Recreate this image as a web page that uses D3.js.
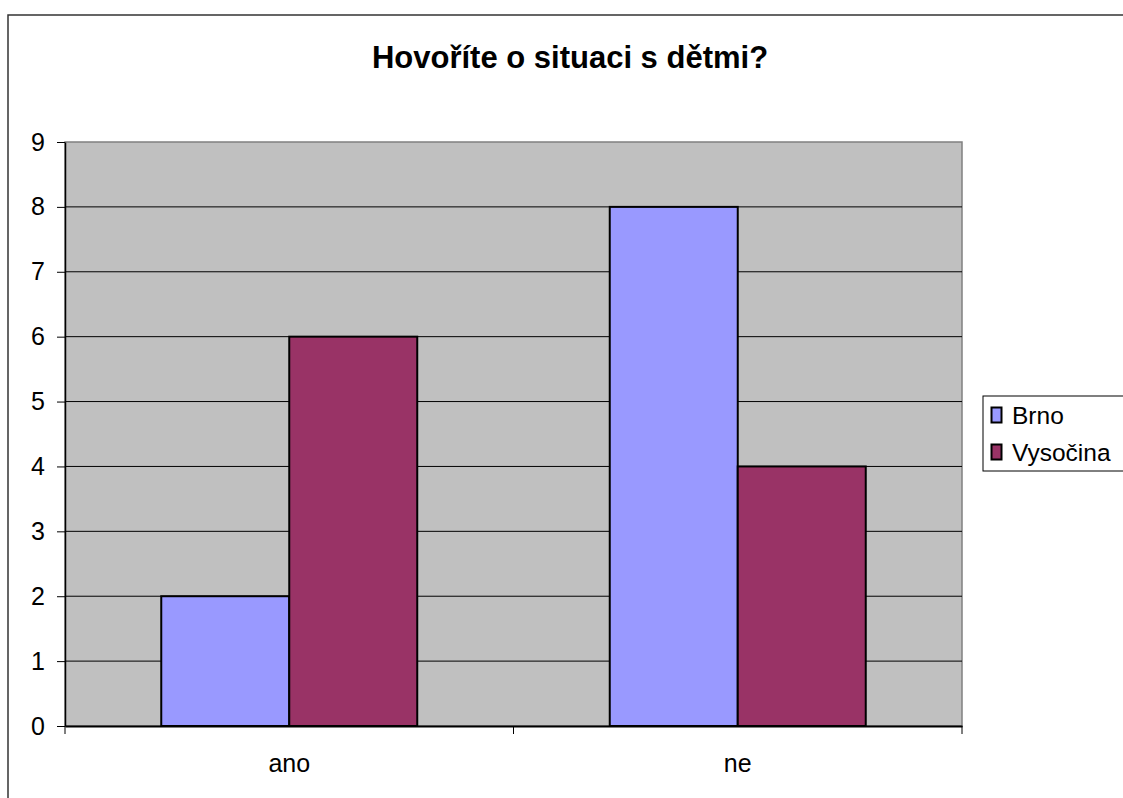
<!DOCTYPE html>
<html><head><meta charset="utf-8">
<script src="https://cdn.jsdelivr.net/npm/d3@7/dist/d3.min.js"></script>
<style>body{margin:0;background:#fff}svg{display:block}text{font-family:"Liberation Sans",Arial,sans-serif}</style>
</head><body><svg id="c" width="1123" height="798"></svg>
<script>
const categories = ["ano", "ne"];
const seriesNames = ["Brno", "Vysočina"];
const brno = [2, 8];
const vysocina = [6, 4];
const yTicks = [0,1,2,3,4,5,6,7,8,9];
const colors = ["#9999FF", "#993366"];
const title = "Hovoříte o situaci s dětmi?";

const svg = d3.select("#c");
const L = 65, R = 962, T = 142, B = 726;
const x = d3.scaleBand().domain(categories).range([L, R]);
const xs = d3.scaleBand().domain(seriesNames).range([0, x.bandwidth()]).paddingOuter(0.752).paddingInner(0);
const y = d3.scaleLinear().domain([0, 9]).range([B, T]);
const values = [brno, vysocina];
const FF = "Liberation Sans, Arial, sans-serif";

// outer border
svg.append("rect").attr("x", 8).attr("y", 15).attr("width", 1200).attr("height", 900)
  .attr("fill", "none").attr("stroke", "#333").attr("stroke-width", 1.5);

svg.append("text").attr("x", 570).attr("y", 68).attr("text-anchor", "middle")
  .attr("font-size", 31).attr("font-weight", "bold").text(title);

// plot area
svg.append("rect").attr("x", L).attr("y", T).attr("width", R - L).attr("height", B - T)
  .attr("fill", "#C0C0C0").attr("stroke", "#808080").attr("stroke-width", 1.5);

// gridlines
svg.append("g").selectAll("line").data(yTicks.filter(d => d > 0 && d < 9)).join("line")
  .attr("x1", L).attr("x2", R).attr("y1", d => y(d)).attr("y2", d => y(d))
  .attr("stroke", "#000").attr("stroke-width", 1);

// bars
categories.forEach((c, ci) => {
  seriesNames.forEach((s, si) => {
    const v = values[si][ci];
    svg.append("rect").attr("x", x(c) + xs(s)).attr("y", y(v))
      .attr("width", xs.bandwidth()).attr("height", y(0) - y(v))
      .attr("fill", colors[si]).attr("stroke", "#000").attr("stroke-width", 2);
  });
});

// y axis
const ya = svg.append("g").attr("transform", `translate(${L},0)`)
  .call(d3.axisLeft(y).tickValues(yTicks).tickSize(8).tickPadding(12).tickSizeOuter(0));
ya.select(".domain").attr("stroke", "#000").attr("stroke-width", 1.5);
ya.selectAll("line").attr("stroke", "#000");
ya.selectAll("text").attr("font-size", 25).attr("fill", "#000").attr("font-family", FF);

// x axis
const xa = svg.append("g").attr("transform", `translate(0,${B})`)
  .call(d3.axisBottom(x).tickSize(0).tickPadding(28));
xa.select(".domain").attr("stroke", "#000").attr("stroke-width", 2);
xa.selectAll("text").attr("font-size", 25).attr("fill", "#000").attr("font-family", FF);
// x tick marks at band boundaries
svg.append("g").selectAll("line").data([L, x("ne"), R]).join("line")
  .attr("x1", d => d).attr("x2", d => d).attr("y1", B).attr("y2", B + 8)
  .attr("stroke", "#000").attr("stroke-width", 1);

// legend
svg.append("rect").attr("x", 983).attr("y", 396).attr("width", 200).attr("height", 75)
  .attr("fill", "#fff").attr("stroke", "#000").attr("stroke-width", 1);
seriesNames.forEach((s, i) => {
  const cy = 415 + i * 37;
  svg.append("rect").attr("x", 991.5).attr("y", cy - 7.5).attr("width", 10).attr("height", 15)
    .attr("fill", colors[i]).attr("stroke", "#000").attr("stroke-width", 2);
  svg.append("text").attr("x", 1012).attr("y", cy + 9).attr("font-size", 24.5).text(s);
});
</script></body></html>
